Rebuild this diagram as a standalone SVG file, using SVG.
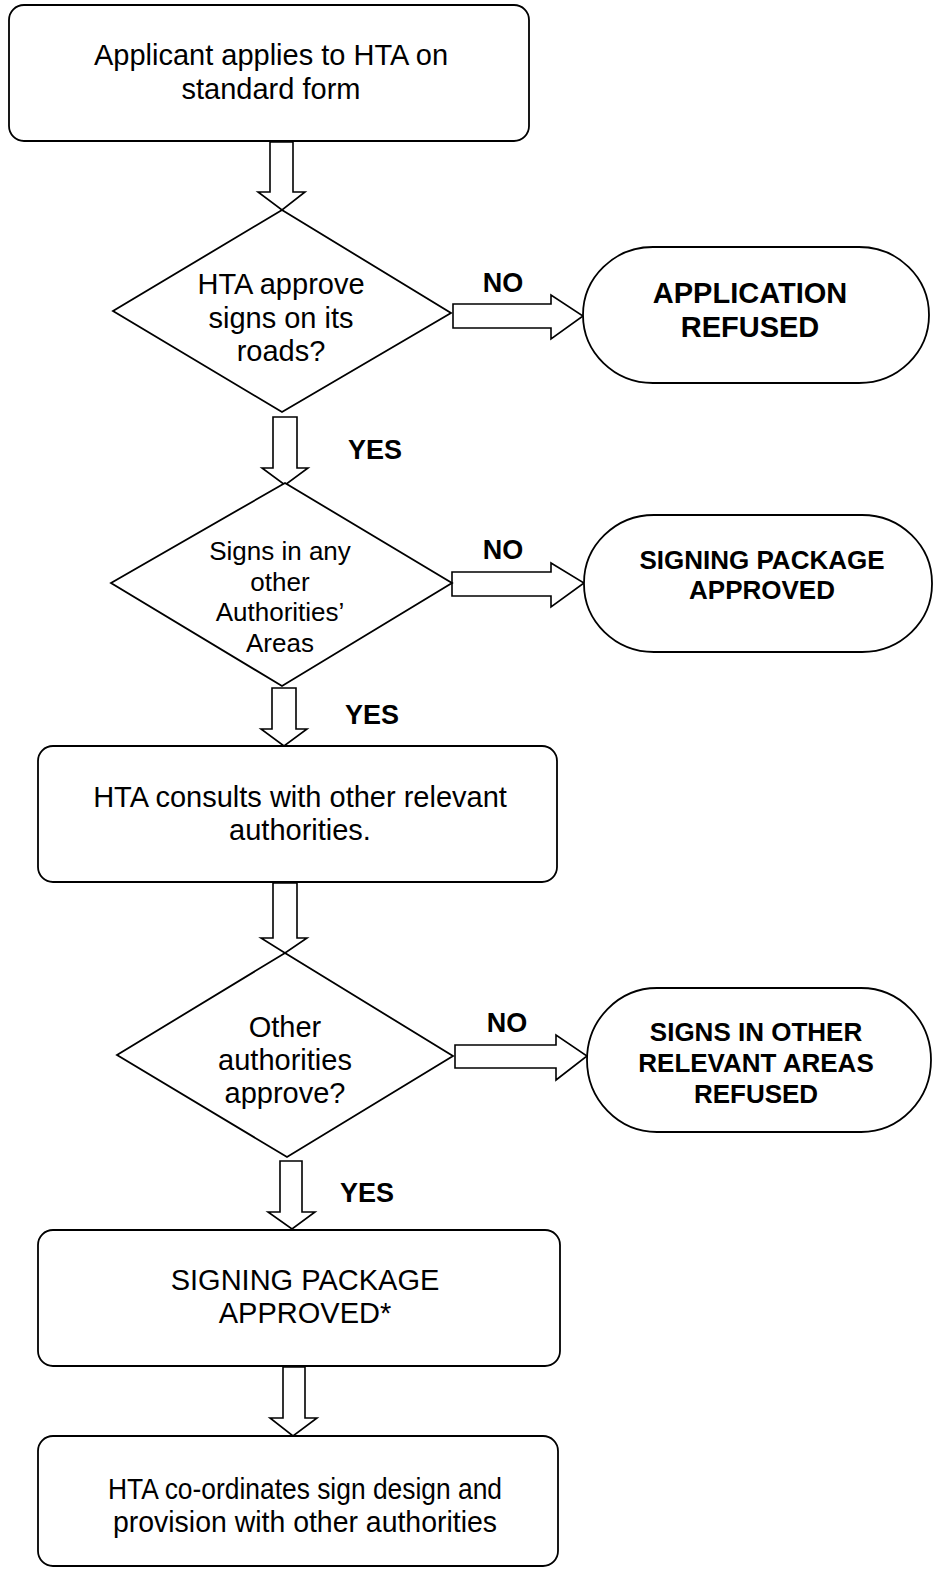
<svg xmlns="http://www.w3.org/2000/svg" width="935" height="1572" viewBox="0 0 935 1572">
<style>
.s{fill:#fff;stroke:#000;stroke-width:1.8}
.a{fill:#fff;stroke:#000;stroke-width:1.6;stroke-linejoin:miter}
.t{font-family:"Liberation Sans",Arial,sans-serif;font-size:29px;fill:#000;text-anchor:middle}
.d{font-size:26px}
.b{font-family:"Liberation Sans",Arial,sans-serif;font-weight:bold;fill:#000;text-anchor:middle}
.l{font-size:27px}
.tb1{font-size:29px}
.tb2{font-size:26px}
</style>
<rect width="935" height="1572" fill="#fff"/>
<g id="connectors">
<path class="a" d="M270,142 V192 H258 L282,210 L305,192 H293 V142 Z"/>
<path class="a" d="M273,417 V468 H262 L285,485 L308,468 H297 V417 Z"/>
<path class="a" d="M272,688 V729 H261 L284,746 L307,729 H296 V688 Z"/>
<path class="a" d="M273,883 V938 H261 L285,953 L307,938 H297 V883 Z"/>
<path class="a" d="M280,1161 V1212 H268 L292,1229 L315,1212 H302 V1161 Z"/>
<path class="a" d="M283,1367 V1418 H270 L293,1436 L317,1418 H305 V1367 Z"/>
<path class="a" d="M453,304 H551 V295 L583,316 L551,339 V328 H453 Z"/>
<path class="a" d="M452,572 H551 V563 L584,583 L551,607 V596 H452 Z"/>
<path class="a" d="M455,1045 H556 V1035 L587,1056 L556,1080 V1068 H455 Z"/>
<text class="b l" x="503" y="292">NO</text>
<text class="b l" x="503" y="559">NO</text>
<text class="b l" x="507" y="1032">NO</text>
<text class="b l" x="375" y="459">YES</text>
<text class="b l" x="372" y="724">YES</text>
<text class="b l" x="367" y="1202">YES</text>
</g>
<g id="start">
<rect class="s" x="9" y="5" width="520" height="136" rx="15"/>
<text class="t" x="271" y="65">Applicant applies to HTA on</text>
<text class="t" x="271" y="99">standard form</text>
</g>
<g id="decision1">
<polygon class="s" points="282,210 451,313 282,412 113,311"/>
<text class="t" x="281" y="294">HTA approve</text>
<text class="t" x="281" y="328">signs on its</text>
<text class="t" x="281" y="361">roads?</text>
</g>
<g id="refused1">
<rect class="s" x="583" y="247" width="346" height="136" rx="70" ry="68"/>
<text class="b tb1" x="750" y="303">APPLICATION</text>
<text class="b tb1" x="750" y="337">REFUSED</text>
</g>
<g id="decision2">
<polygon class="s" points="285,483 452,583 282,686 111,583"/>
<text class="t d" x="280" y="560">Signs in any</text>
<text class="t d" x="280" y="591">other</text>
<text class="t d" x="280" y="621">Authorities’</text>
<text class="t d" x="280" y="652">Areas</text>
</g>
<g id="approved1">
<rect class="s" x="584" y="515" width="348" height="137" rx="70" ry="68"/>
<text class="b tb2" x="762" y="569">SIGNING PACKAGE</text>
<text class="b tb2" x="762" y="599">APPROVED</text>
</g>
<g id="consult">
<rect class="s" x="38" y="746" width="519" height="136" rx="15"/>
<text class="t" x="300" y="807">HTA consults with other relevant</text>
<text class="t" x="300" y="840">authorities.</text>
</g>
<g id="decision3">
<polygon class="s" points="285,953 453,1056 287,1157 117,1055"/>
<text class="t" x="285" y="1037">Other</text>
<text class="t" x="285" y="1070">authorities</text>
<text class="t" x="285" y="1103">approve?</text>
</g>
<g id="refused2">
<rect class="s" x="587" y="988" width="344" height="144" rx="70" ry="72"/>
<text class="b tb2" x="756" y="1041">SIGNS IN OTHER</text>
<text class="b tb2" x="756" y="1072">RELEVANT AREAS</text>
<text class="b tb2" x="756" y="1103">REFUSED</text>
</g>
<g id="approved2">
<rect class="s" x="38" y="1230" width="522" height="136" rx="15"/>
<text class="t" x="305" y="1290">SIGNING PACKAGE</text>
<text class="t" x="305" y="1323">APPROVED*</text>
</g>
<g id="coordinate">
<rect class="s" x="38" y="1436" width="520" height="130" rx="15"/>
<text class="t" x="305" y="1499" textLength="394" lengthAdjust="spacingAndGlyphs">HTA co-ordinates sign design and</text>
<text class="t" x="305" y="1532" textLength="384" lengthAdjust="spacingAndGlyphs">provision with other authorities</text>
</g>
</svg>
